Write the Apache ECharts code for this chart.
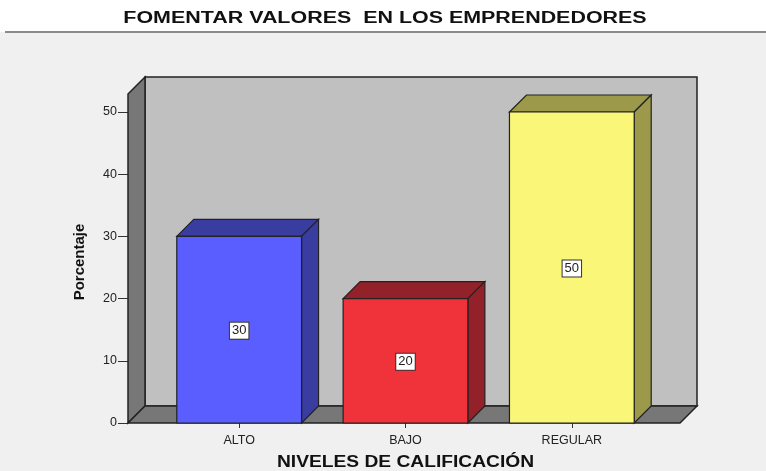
<!DOCTYPE html>
<html>
<head>
<meta charset="utf-8">
<script src="https://cdn.jsdelivr.net/npm/echarts@6/dist/echarts.min.js"></script>
<style>
html,body{margin:0;padding:0;background:#fff;}
#chart{width:766px;height:471px;}
</style>
</head>
<body>
<div id="chart"></div>
<script>
const categories = ['ALTO', 'BAJO', 'REGULAR'];
const values = [30, 20, 50];
const yTicks = [0, 10, 20, 30, 40, 50];
const titleText = 'FOMENTAR VALORES  EN LOS EMPRENDEDORES';
const xTitle = 'NIVELES DE CALIFICACIÓN';
const yTitle = 'Porcentaje';

const frontColors = ['#5a5eff', '#f0323b', '#faf678'];
const sideColors = ['#3a3da0', '#93212a', '#9c9a4a'];
const D = 17;
const EDGE = '#222';
const FONT = 'Liberation Sans, Arial, sans-serif';

const chart = echarts.init(document.getElementById('chart'), null, {renderer: 'canvas'});

function wallsRender(params, api) {
  const cs = params.coordSys;
  const left = cs.x - 28;
  const right = cs.x + cs.width + 25;
  const y0 = api.coord([0, 0])[1];
  const yTop = api.coord([0, yTicks[yTicks.length - 1]])[1] - 18;
  return {
    type: 'group',
    children: [
      {type: 'rect', shape: {x: left + D, y: yTop - D, width: right - left, height: y0 - yTop},
       style: {fill: '#c0c0c0', stroke: EDGE, lineWidth: 1.5}},
      {type: 'polygon', shape: {points: [[left, yTop], [left + D, yTop - D], [left + D, y0 - D], [left, y0]]},
       style: {fill: '#777777', stroke: EDGE, lineWidth: 1.5}},
      {type: 'polygon', shape: {points: [[left, y0], [left + D, y0 - D], [right + D, y0 - D], [right, y0]]},
       style: {fill: '#777777', stroke: EDGE, lineWidth: 1.5}}
    ]
  };
}

function barRender(params, api) {
  const idx = api.value(0);
  const val = api.value(1);
  const top = api.coord([idx, val]);
  const base = api.coord([idx, 0]);
  const mid = api.coord([idx, val / 2]);
  const w = api.size([1, 0])[0] * 0.75;
  const x1 = top[0] - w / 2, x2 = top[0] + w / 2;
  const yt = top[1], yb = base[1];
  const i = params.dataIndex;
  return {
    type: 'group',
    children: [
      {type: 'polygon', shape: {points: [[x1, yt], [x1 + D, yt - D], [x2 + D, yt - D], [x2, yt]]},
       style: {fill: sideColors[i], stroke: EDGE, lineWidth: 1.2}},
      {type: 'polygon', shape: {points: [[x2, yt], [x2 + D, yt - D], [x2 + D, yb - D], [x2, yb]]},
       style: {fill: sideColors[i], stroke: EDGE, lineWidth: 1.2}},
      {type: 'rect', shape: {x: x1, y: yt, width: w, height: yb - yt},
       style: {fill: frontColors[i], stroke: EDGE, lineWidth: 1.2}},
      {type: 'text', x: mid[0], y: mid[1] + 1,
       style: {text: String(val), fill: '#222', fontSize: 13, fontFamily: FONT,
               align: 'center', verticalAlign: 'middle', backgroundColor: '#fff',
               borderColor: '#333', borderWidth: 1, padding: [2, 2, 1, 2]}}
    ]
  };
}

chart.setOption({
  animation: false,
  backgroundColor: '#f0f0f0',
  graphic: [
    {type: 'rect', left: 0, top: 0, shape: {width: 766, height: 32}, style: {fill: '#fff'}, z: -10},
    {type: 'line', shape: {x1: 5, y1: 32, x2: 766, y2: 32}, style: {stroke: '#8a8a8a', lineWidth: 2}, z: -9},
    {type: 'text', x: 385, y: 19, scaleX: 1.34, z: 10,
     style: {text: titleText, fontSize: 16, fontWeight: 'bold', fill: '#111', fontFamily: FONT,
             align: 'center', verticalAlign: 'middle'}},
    {type: 'text', x: 405.5, y: 462.5, scaleX: 1.2, z: 10,
     style: {text: xTitle, fontSize: 16, fontWeight: 'bold', fill: '#111', fontFamily: FONT,
             align: 'center', verticalAlign: 'middle'}},
    {type: 'text', x: 80, y: 262, rotation: Math.PI / 2, z: 10,
     style: {text: yTitle, fontSize: 15, fontWeight: 'bold', fill: '#111', fontFamily: FONT,
             align: 'center', verticalAlign: 'middle'}}
  ],
  grid: {left: 156, right: 111, top: 112, bottom: 48, outerBoundsMode: 'none', containLabel: false},
  xAxis: {
    type: 'category', data: categories,
    axisLine: {show: false},
    axisTick: {show: true, alignWithLabel: true, length: 5, lineStyle: {color: '#333'}},
    axisLabel: {fontSize: 12.5, color: '#222', margin: 11, fontFamily: FONT}
  },
  yAxis: {
    type: 'value', min: 0, max: 50, interval: 10, offset: 28,
    axisLine: {show: false},
    axisTick: {show: true, length: 10, lineStyle: {color: '#333'}},
    axisLabel: {fontSize: 12.5, color: '#222', margin: 11, fontFamily: FONT},
    splitLine: {show: false}
  },
  series: [
    {type: 'custom', renderItem: wallsRender, data: [[0, 0]], z: 1, silent: true},
    {type: 'custom', renderItem: barRender, data: categories.map((c, i) => [i, values[i]]), z: 2}
  ]
});
</script>
</body>
</html>
